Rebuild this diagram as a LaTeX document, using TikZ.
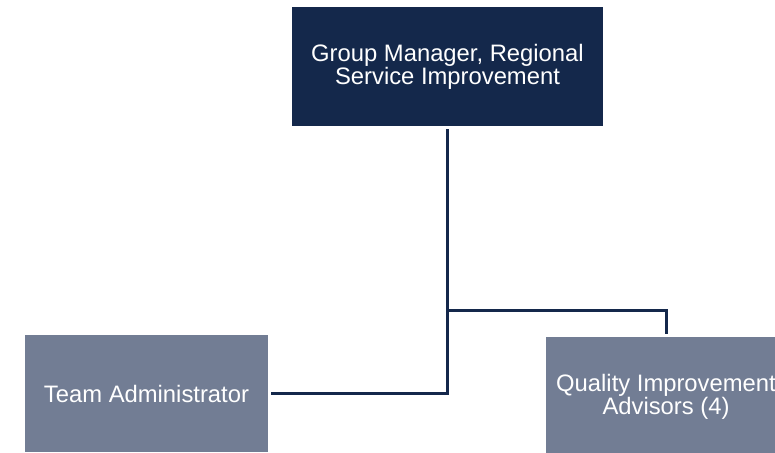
\documentclass[tikz,border=0pt]{standalone}
\usepackage{fontspec}
\setmainfont{Liberation Sans}
\definecolor{navy}{HTML}{14284B}
\definecolor{slate}{HTML}{727D94}
\begin{document}
\begin{tikzpicture}[x=1pt,y=-1pt,
  box/.style={draw=none, inner sep=0pt, outer sep=3pt, text=white, align=center,
    font=\fontsize{23.8}{22}\selectfont},
  topbox/.style={box, fill=navy, minimum width=311pt, minimum height=119pt},
  subbox/.style={box, fill=slate},
  conn/.style={draw=navy, line width=3pt}]
\path[use as bounding box] (0,0) rectangle (775,452);
\clip (0,0) rectangle (775,452);
\node[topbox] (top) at (447.5,66.5) {Group Manager, Regional\\Service Improvement};
\node[subbox, minimum width=243pt, minimum height=117pt] (ta) at (146.5,393.5) {Team Administrator};
\node[subbox, minimum width=241pt, minimum height=120pt] (qia) at (666,397) {Quality Improvement\\Advisors (4)};
\coordinate (j) at (447.5,310);
\draw[conn] (top.south) -- (top.south |- ta.east) -- (ta.east);
\draw[conn] (top.south |- j) -| (qia.north);
\end{tikzpicture}
\end{document}
